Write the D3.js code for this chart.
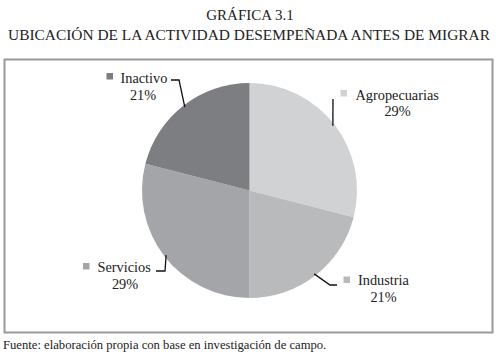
<!DOCTYPE html>
<html>
<head>
<meta charset="utf-8">
<script src="https://cdn.jsdelivr.net/npm/d3@7"></script>
<style>
  body { margin: 0; background: #fff; }
</style>
</head>
<body>
<script>
// Chart data
const categories = ["Agropecuarias", "Industria", "Servicios", "Inactivo"];
const percents = [29, 21, 29, 21];
const colours = ["#d1d2d4", "#b9babc", "#a4a5a8", "#7d7e82"];

// SVG dimensions
const width = 500, height = 355;
const cx = 249.5, cy = 190.5, radius = 107.5;
const serif = "'Liberation Serif', 'Times New Roman', Times, serif";

// Label layout: elbow of the leader line and label anchor, relative to pie centre
const labelLayout = [
    { elbow: [83.5, -91.5], end: [83.5, -91.5], marker: [91, -100.5], text: [106, -90.5], pct: [148, -74.5] },
    { elbow: [80.5, 94.5], end: [87.5, 94.5], marker: [94, 86], text: [108.5, 94.5], pct: [134, 111] },
    { elbow: [-84.5, 80.5], end: [-93.5, 80.5], marker: [-166.5, 72.5], text: [-152, 81.5], pct: [-124.5, 98] },
    { elbow: [-70.5, -110.5], end: [-78.5, -110.5], marker: [-143, -117.5], text: [-129, -108], pct: [-106.5, -91] }
];

const svg = d3.select("body")
    .append("svg")
    .attr("width", width)
    .attr("height", height)
    .attr("font-family", serif);

// Titles
svg.append("text")
    .attr("x", 250).attr("y", 20)
    .attr("text-anchor", "middle")
    .attr("font-size", 15)
    .attr("fill", "#222")
    .text("GRÁFICA 3.1");
svg.append("text")
    .attr("x", 249).attr("y", 40)
    .attr("text-anchor", "middle")
    .attr("font-size", 15.4)
    .attr("fill", "#222")
    .text("UBICACIÓN DE LA ACTIVIDAD DESEMPEÑADA ANTES DE MIGRAR");

// Frame
svg.append("rect")
    .attr("x", 4.5).attr("y", 59.5)
    .attr("width", 488).attr("height", 273)
    .attr("fill", "none")
    .attr("stroke", "#9a9a9a")
    .attr("stroke-width", 2);

// Footer
svg.append("text")
    .attr("x", 3).attr("y", 349)
    .attr("font-size", 12.65)
    .attr("fill", "#222")
    .text("Fuente: elaboración propia con base en investigación de campo.");

// Pie
const pie = d3.pie().sort(null).value((d) => d);
const arcs = pie(percents);
const arc = d3.arc().innerRadius(0).outerRadius(radius);

const g = svg.append("g")
    .attr("transform", `translate(${cx}, ${cy})`);

g.selectAll("path.slice")
    .data(arcs)
    .enter()
    .append("path")
    .attr("class", "slice")
    .attr("d", arc)
    .attr("fill", (d, i) => colours[i]);

// Leader lines and labels
arcs.forEach((d, i) => {
    const L = labelLayout[i];
    const mid = (d.startAngle + d.endAngle) / 2;
    const r0 = radius - 2;
    const start = [Math.sin(mid) * r0, -Math.cos(mid) * r0];
    g.append("path")
        .attr("d", d3.line()([start, L.elbow, L.end]))
        .attr("fill", "none")
        .attr("stroke", "#111")
        .attr("stroke-width", 1.3);
    g.append("rect")
        .attr("x", L.marker[0]).attr("y", L.marker[1])
        .attr("width", 6.5).attr("height", 6.5)
        .attr("fill", colours[i]);
    g.append("text")
        .attr("x", L.text[0]).attr("y", L.text[1])
        .attr("font-size", 14.3)
        .attr("fill", "#222")
        .text(categories[i]);
    g.append("text")
        .attr("x", L.pct[0]).attr("y", L.pct[1])
        .attr("text-anchor", "middle")
        .attr("font-size", 14.3)
        .attr("fill", "#222")
        .text(percents[i] + "%");
});
</script>
</body>
</html>
